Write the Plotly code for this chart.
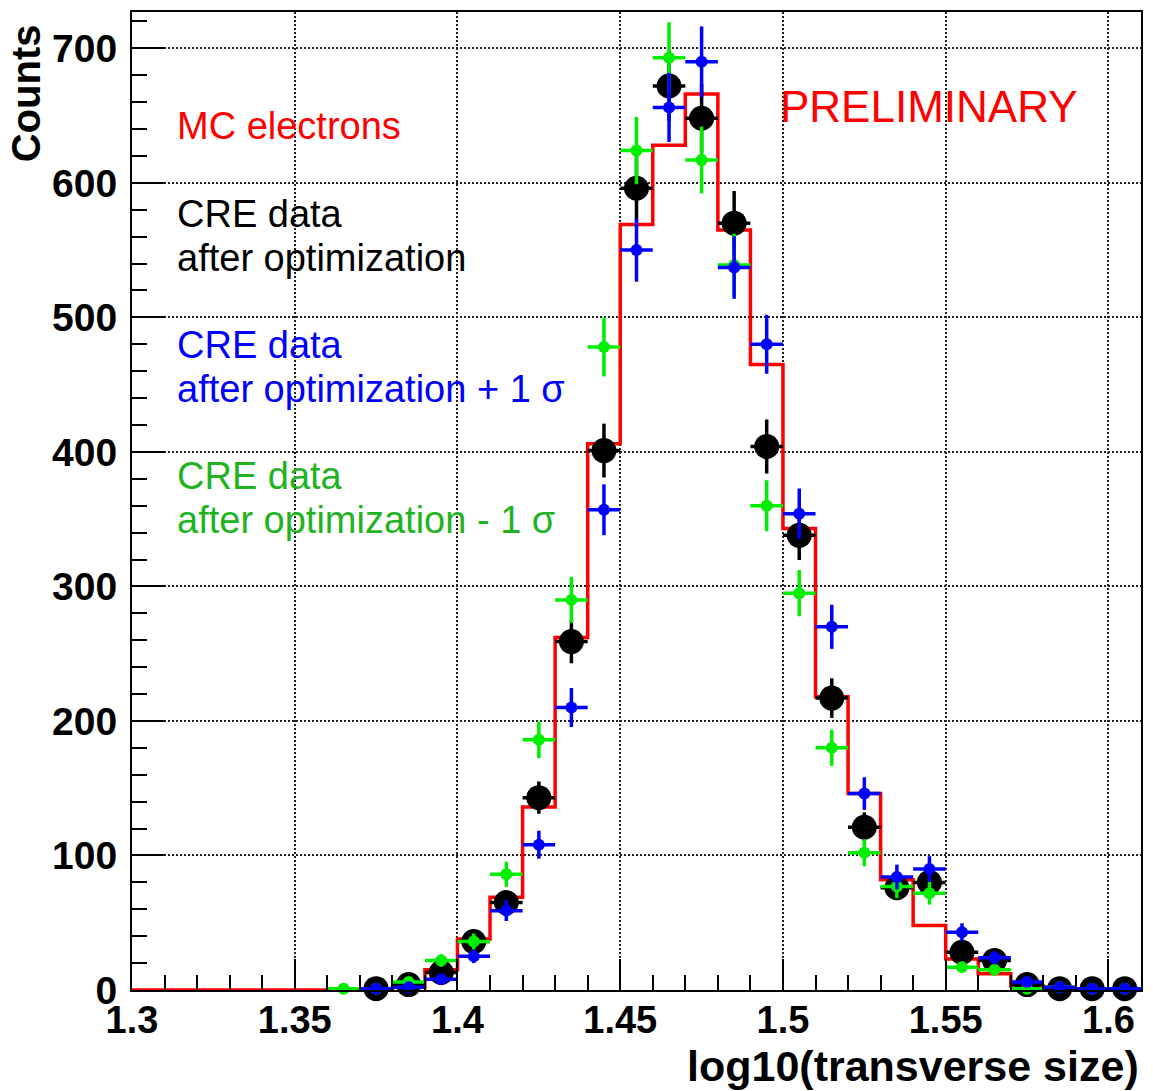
import plotly.graph_objects as go

# Histogram binning in log10(transverse size)
bin_edges = [1.30, 1.31, 1.32, 1.33, 1.34, 1.35, 1.36, 1.37, 1.38, 1.39, 1.40,
             1.41, 1.42, 1.43, 1.44, 1.45, 1.46, 1.47, 1.48, 1.49, 1.50,
             1.51, 1.52, 1.53, 1.54, 1.55, 1.56, 1.57, 1.58, 1.59, 1.60, 1.61]

# MC electrons (red step histogram), one entry per bin
mc_counts = [0, 0, 0, 0, 0, 0, 0, 1, 2, 15, 38, 69, 136, 262, 406, 569, 628, 666,
             565, 465, 343, 218, 146, 82, 48, 23, 12, 3, 1, 0, 0]

# CRE data after optimization (black)
cre_counts = [None, None, None, None, None, None, None,
              1, 4, 13, 36, 65, 143, 259, 401, 596, 672, 648, 570, 404, 338,
              217, 121, 76, 80, 28, 22, 4, 1, 1, 1]
cre_err = [None, None, None, None, None, None, None,
           1, 2, 3.6, 6, 8.1, 12, 16.1, 20, 24.4, 25.9, 25.5, 23.9, 20.1, 18.4,
           14.7, 11, 8.7, 8.9, 5.3, 4.7, 2, 1, 1, 1]

# CRE data after optimization + 1 sigma (blue)
plus_counts = [None, None, None, None, None, None, None,
               1, 2, 8, 25, 59, 108, 210, 357, 550, 656, 690, 537, 480, 354,
               270, 146, 84, 90, 43, 24, 6, 2, 1, 1]
plus_err = [None, None, None, None, None, None, None,
            1, 1.4, 2.8, 5, 7.7, 10.4, 14.5, 18.9, 23.5, 25.6, 26.3, 23.2, 21.9, 18.8,
            16.4, 12.1, 9.2, 9.5, 6.6, 4.9, 2.4, 1.4, 1, 1]

# CRE data after optimization - 1 sigma (green)
minus_counts = [None, None, None, None, None, None,
                1, 1, 6, 22, 36, 86, 186, 290, 478, 624, 693, 617, 539, 360, 295,
                180, 102, 77, 72, 17, 15, 1, 2, 1, 1]
minus_err = [None, None, None, None, None, None,
             1, 1, 2.4, 4.7, 6, 9.3, 13.6, 17, 21.9, 25, 26.3, 24.8, 23.2, 19, 17.2,
             13.4, 10.1, 8.8, 8.5, 4.1, 3.9, 1, 1.4, 1, 1]

y_ticks = [0, 100, 200, 300, 400, 500, 600, 700]
x_ticks = [1.3, 1.35, 1.4, 1.45, 1.5, 1.55, 1.6]

bin_centers = [round((a + b) / 2, 4) for a, b in zip(bin_edges[:-1], bin_edges[1:])]
half_width = (bin_edges[1] - bin_edges[0]) / 2

FONT = "Liberation Sans, Arial, Helvetica, sans-serif"
W, H = 1153, 1091
ML, MR, MT, MB = 132, 10, 12, 101
PW, PH = W - ML - MR, H - MT - MB

fig = go.Figure()

# MC step histogram
fig.add_trace(go.Scatter(
    x=bin_edges, y=mc_counts + [mc_counts[-1]],
    mode="lines", line=dict(color="#ff0000", width=3.5, shape="hv"),
    hoverinfo="skip",
))


def data_points(counts, errs, color, size):
    return go.Scatter(
        x=bin_centers, y=counts, mode="markers",
        marker=dict(color=color, size=size, line=dict(width=0)),
        error_y=dict(type="data", array=errs, color=color, thickness=3.5, width=0),
        error_x=dict(type="constant", value=half_width, color=color, thickness=3.5, width=0),
        cliponaxis=False,
    )


fig.add_trace(data_points(cre_counts, cre_err, "#000000", 25))
fig.add_trace(data_points(minus_counts, minus_err, "#00ee00", 12))
fig.add_trace(data_points(plus_counts, plus_err, "#0000ff", 12))


def px_x(px):
    return (px - ML) / PW


def px_y(py):
    return (MT + PH - py) / PH


labels = [
    ("MC electrons", 175, 126, "#ff0000"),
    ("CRE data", 175, 214, "#000000"),
    ("after optimization", 175, 258, "#000000"),
    ("CRE data", 175, 345, "#0000ff"),
    ("after optimization + 1 σ", 175, 389, "#0000ff"),
    ("CRE data", 175, 476, "#1fb41f"),
    ("after optimization - 1 σ", 175, 520, "#1fb41f"),
]
for text, x, y, color in labels:
    fig.add_annotation(text=text, x=px_x(x), y=px_y(y), xref="paper", yref="paper",
                       xanchor="left", yanchor="middle", showarrow=False,
                       font=dict(family=FONT, size=38, color=color))

fig.add_annotation(text="PRELIMINARY", x=px_x(779), y=px_y(106), xref="paper", yref="paper",
                   xanchor="left", yanchor="middle", showarrow=False,
                   font=dict(family=FONT, size=44, color="#ff0000"))

# Axis titles, ROOT style: aligned to the end of each axis
fig.add_annotation(text="log10(transverse size)", x=1.0, y=px_y(1066), xref="paper", yref="paper",
                   xanchor="right", yanchor="middle", showarrow=False,
                   font=dict(family=FONT, size=43, color="#000000", weight="bold"))
fig.add_annotation(text="Counts", x=px_x(26), y=px_y(22), xref="paper", yref="paper",
                   xanchor="center", yanchor="top", textangle=-90, showarrow=False,
                   font=dict(family=FONT, size=40, color="#000000", weight="bold"))

axis_common = dict(
    showline=True, linecolor="#000000", linewidth=2, mirror=True,
    ticks="inside", tickcolor="#000000", tickwidth=2,
    showgrid=True, gridcolor="#222222", gridwidth=1.5, griddash="2px,2px",
    zeroline=False,
)

fig.update_xaxes(
    range=[bin_edges[0], bin_edges[-1]], tickvals=x_ticks,
    ticktext=[f"{v:g}" for v in x_ticks], ticklen=31,
    minor=dict(dtick=0.01, tick0=1.3, ticks="inside", ticklen=15, tickwidth=2,
               tickcolor="#000000", showgrid=False),
    ticklabelstandoff=-5,
    tickfont=dict(family=FONT, size=38, color="#000000", weight="bold"),
    **axis_common,
)
fig.update_yaxes(
    range=[0, 727], tickvals=y_ticks, ticklen=33,
    minor=dict(dtick=20, tick0=0, ticks="inside", ticklen=15, tickwidth=2,
               tickcolor="#000000", showgrid=False),
    ticklabelstandoff=5,
    tickfont=dict(family=FONT, size=39, color="#000000", weight="bold"),
    **axis_common,
)

fig.update_layout(
    width=W, height=H,
    margin=dict(l=ML, r=MR, t=MT, b=MB, pad=0),
    paper_bgcolor="#ffffff", plot_bgcolor="#ffffff",
    showlegend=False,
    font=dict(family=FONT),
)

fig.write_html("out.html")
